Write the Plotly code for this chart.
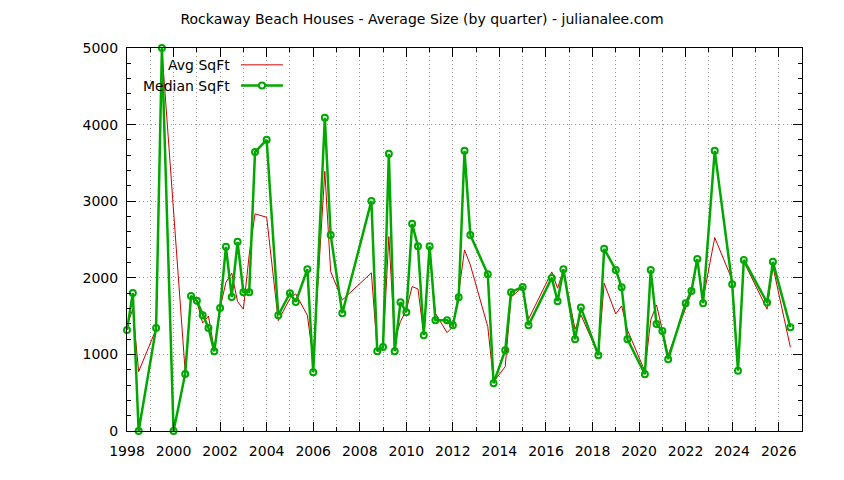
"""Rockaway Beach house sizes by quarter, drawn in a gnuplot-like style."""

from __future__ import annotations

import plotly.graph_objects as go

TITLE = "Rockaway Beach Houses - Average Size (by quarter) - julianalee.com"

quarters = [
    "1998Q1", "1998Q2", "1998Q3", "1999Q2", "1999Q3", "2000Q1", "2000Q3", "2000Q4",
    "2001Q1", "2001Q2", "2001Q3", "2001Q4", "2002Q1", "2002Q2", "2002Q3", "2002Q4",
    "2003Q1", "2003Q2", "2003Q3", "2004Q1", "2004Q3", "2005Q1", "2005Q2", "2005Q4",
    "2006Q1", "2006Q3", "2006Q4", "2007Q2", "2008Q3", "2008Q4", "2009Q1", "2009Q2",
    "2009Q3", "2009Q4", "2010Q1", "2010Q2", "2010Q3", "2010Q4", "2011Q1", "2011Q2",
    "2011Q4", "2012Q1", "2012Q2", "2012Q3", "2012Q4", "2013Q3", "2013Q4", "2014Q2",
    "2014Q3", "2015Q1", "2015Q2", "2016Q2", "2016Q3", "2016Q4", "2017Q2", "2017Q3",
    "2018Q2", "2018Q3", "2019Q1", "2019Q2", "2019Q3", "2020Q2", "2020Q3", "2020Q4",
    "2021Q1", "2021Q2", "2022Q1", "2022Q2", "2022Q3", "2022Q4", "2023Q2", "2024Q1",
    "2024Q2", "2024Q3", "2025Q3", "2025Q4", "2026Q3",
]

avg_sqft = [
    1380, 1590, 775, 1330, 4980, 2850, 770, 1760,
    1690, 1410, 1500, 1060, 1610, 1940, 2060, 1690,
    1590, 2300, 2835, 2790, 1440, 1730, 1790, 1510,
    930, 3390, 2080, 1710, 2065, 1050, 1095, 2538,
    1190, 1430, 1580, 1885, 1855, 1260, 2350, 1537,
    1284, 1363, 1800, 2364, 2168, 1363, 640, 840,
    1746, 1881, 1459, 2077, 1864, 2103, 1328, 1515,
    1000, 1929, 1528, 1633, 1319, 780, 1450, 1646,
    1319, 993, 1603, 1799, 2234, 1720, 2525, 1973,
    800, 2212, 1590, 2146, 1093,
]

median_sqft = [
    1320, 1800, 0, 1345, 5000, 0, 745, 1763,
    1700, 1510, 1345, 1040, 1607, 2404, 1750, 2469,
    1812, 1812, 3641, 3801, 1511, 1799, 1685, 2112,
    767, 4089, 2560, 1537, 3004, 1041, 1097, 3618,
    1041, 1681, 1551, 2704, 2413, 1250, 2413, 1446,
    1446, 1381, 1746, 3658, 2560, 2047, 623, 1054,
    1812, 1881, 1381, 1999, 1694, 2112, 1198, 1611,
    989, 2378, 2103, 1877, 1198, 741, 2103, 1398,
    1306, 937, 1668, 1829, 2247, 1668, 3658, 1916,
    788, 2234, 1676, 2208, 1355,
]

x_range = [1998, 2027]
y_range = [0, 5000]

RED = "#d00000"
GREEN = "#00a800"
GRID = "#9a9a9a"
GRID_DASH = "1px,3px"
FONT = "DejaVu Sans"

# the page body keeps its default 8px margin, so the figure is 8px smaller
WIDTH, HEIGHT, PAGE_OFFSET = 836, 472, 8


def _quarter_to_year(label: str) -> float:
    year, quarter = label.split("Q")
    return int(year) + (int(quarter) - 1) / 4


def _axis(dtick: int, minor_dtick: int, rng: list[int], minor_grid: bool, standoff: int) -> dict[str, object]:
    return dict(
        range=rng,
        tickmode="linear",
        tick0=rng[0],
        dtick=dtick,
        ticks="inside",
        ticklen=9,
        tickwidth=1,
        tickcolor="black",
        ticklabelstandoff=standoff,
        showline=True,
        linecolor="black",
        linewidth=1,
        mirror="allticks",
        showgrid=True,
        gridcolor=GRID,
        griddash=GRID_DASH,
        gridwidth=1,
        zeroline=False,
        tickfont=dict(family=FONT, size=14, color="black"),
        minor=dict(
            tick0=rng[0],
            dtick=minor_dtick,
            ticks="inside",
            ticklen=4,
            tickcolor="black",
            showgrid=minor_grid,
            gridcolor=GRID,
            griddash=GRID_DASH,
            gridwidth=1,
        ),
    )


def _add_legend(figure: go.Figure) -> None:
    """gnuplot puts the key text on the left and the sample on the right."""
    entries = [("Avg SqFt", RED, 1, False, 0.956), ("Median SqFt", GREEN, 2.5, True, 0.902)]
    for label, color, width, marker, y in entries:
        figure.add_annotation(
            x=0.155, y=y, xref="paper", yref="paper", text=label, showarrow=False,
            xanchor="right", yanchor="middle", font=dict(family=FONT, size=14, color="black"),
        )
        figure.add_shape(
            type="line", xref="paper", yref="paper", x0=0.169, x1=0.231, y0=y, y1=y,
            line=dict(color=color, width=width),
        )
        if marker:
            figure.add_shape(
                type="circle", xref="paper", yref="paper",
                x0=0.2 - 0.0045, x1=0.2 + 0.0045, y0=y - 0.008, y1=y + 0.008,
                line=dict(color=color, width=2), fillcolor="white",
            )


x_values = [_quarter_to_year(q) for q in quarters]

fig = go.Figure()
fig.add_trace(
    go.Scatter(
        x=x_values, y=avg_sqft, name="Avg SqFt", mode="lines",
        line=dict(color=RED, width=1), cliponaxis=False,
    )
)
fig.add_trace(
    go.Scatter(
        x=x_values, y=median_sqft, name="Median SqFt", mode="lines+markers",
        line=dict(color=GREEN, width=2.5),
        marker=dict(symbol="circle-open", size=6, color=GREEN, line=dict(width=2, color=GREEN)),
        cliponaxis=False,
    )
)

fig.update_layout(
    width=WIDTH,
    height=HEIGHT,
    autosize=False,
    margin=dict(l=127 - PAGE_OFFSET, r=42, t=48 - PAGE_OFFSET, b=49),
    paper_bgcolor="white",
    plot_bgcolor="white",
    showlegend=False,
    title=dict(
        text=TITLE, x=(422 - PAGE_OFFSET) / WIDTH, xref="container", xanchor="center",
        y=1 - (19 - PAGE_OFFSET) / HEIGHT, yref="container", yanchor="middle",
        font=dict(family=FONT, size=14, color="black"),
    ),
    xaxis=_axis(2, 1, x_range, True, 7),
    yaxis=_axis(1000, 200, y_range, False, 5),
    font=dict(family=FONT, size=14, color="black"),
)
_add_legend(fig)

fig.write_html("out.html")
